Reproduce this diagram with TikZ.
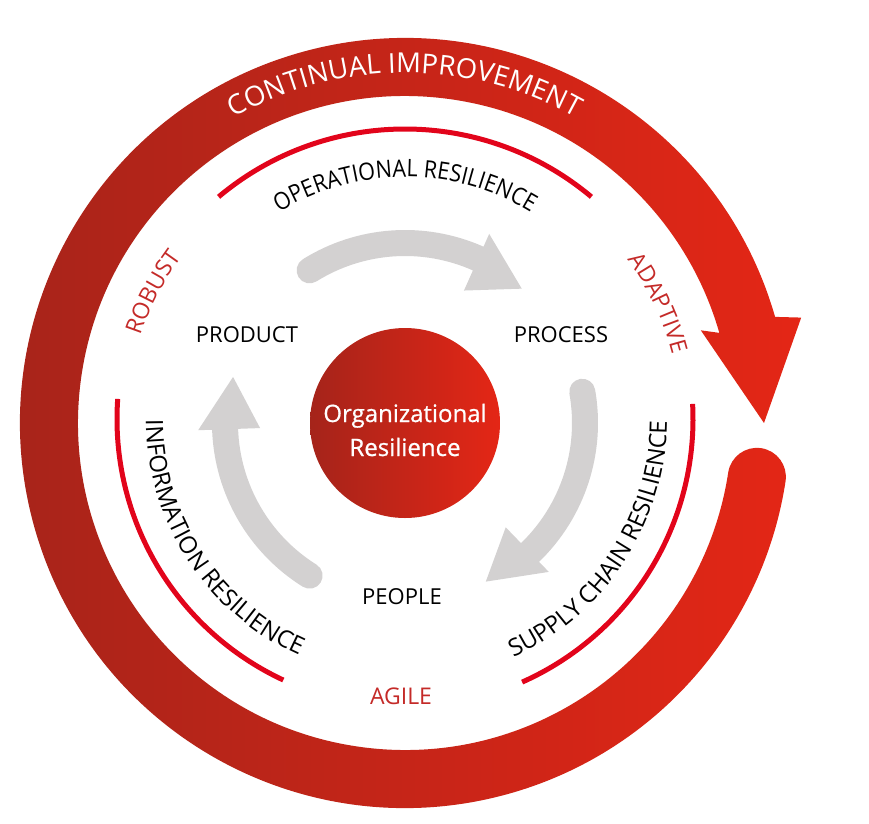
\documentclass[tikz,border=0pt]{standalone}
\usepackage{fontspec}
\setmainfont{Open Sans}
\newfontfamily\narrowfamily[FakeStretch=0.9]{Open Sans}
\newfontfamily\corefamily[FakeBold=0.8]{Open Sans}
\usetikzlibrary{decorations.text}

\definecolor{ringdark}{RGB}{165,36,26}
\definecolor{ringlight}{RGB}{228,38,22}
\definecolor{rimred}{RGB}{226,4,27}
\definecolor{qualred}{RGB}{196,42,40}
\definecolor{flowgray}{RGB}{211,209,209}

\newcommand{\bandfont}{\fontsize{27.5}{30}\selectfont}
\newcommand{\rimfont}{\fontsize{24}{28}\selectfont}
\newcommand{\toprimfont}{\narrowfamily\fontsize{24}{28}\selectfont}
\newcommand{\qualfont}{\fontsize{23}{26}\selectfont}

\begin{document}
\begin{tikzpicture}
[x=1pt,y=1pt,
%
core/.style={shape=circle,minimum size=190pt,inner sep=0pt,left color=ringdark,right color=ringlight},
corelabel/.style={text=white,align=center,font=\corefamily\fontsize{24}{34}\selectfont},
item/.style={anchor=base,font=\fontsize{22}{26}\selectfont},
quality/.style={anchor=base,text=qualred,font=\qualfont},
%
rim/.style={draw=rimred,line width=5pt},
flow/.style={fill=flowgray},
arclabel/.style={decorate,decoration={text along path,text align=center,text={#1}}}]
%
\useasboundingbox (-405,-400) rectangle (464,423);
%
%% continual improvement ring with its head
\shade[left color=ringdark,right color=ringlight]
  (16:385) arc[start angle=16,end angle=351.3,radius=385]
  arc[start angle=-8.7,end angle=171.3,radius=29]
  arc[start angle=351.3,end angle=16,radius=327]
  -- (17.4:310) -- (0:359) -- (14.9:410) -- cycle;
\path[arclabel={|\bandfont|CONTINUAL IMPROVEMENT},decoration={text color=white}]
  (150:350) arc[start angle=150,end angle=30,radius=350];
%
%% qualities
\path[arclabel={|\qualfont|ROBUST},decoration={text color=qualred}]
  (170:278) arc[start angle=170,end angle=135,radius=278];
\path[arclabel={|\qualfont|ADAPTIVE},decoration={text color=qualred}]
  (45:276) arc[start angle=45,end angle=5.6,radius=276];
\node (agile) [quality] at (-4,-281) {AGILE};
%
%% resilience rims and their labels
\begin{scope}[shift={(0,4)}]
\draw[rim] (130:290) arc[start angle=130,end angle=50,radius=290];
\draw[rim] (176:288) arc[start angle=176,end angle=245,radius=288];
\draw[rim] (-66:288) arc[start angle=-66,end angle=3,radius=288];
\path[arclabel={|\toprimfont|OPERATIONAL RESILIENCE}]
  (135:242) arc[start angle=135,end angle=45,radius=242];
\path[arclabel={|\rimfont|INFORMATION RESILIENCE}]
  (168:259) arc[start angle=168,end angle=258,radius=259];
\path[arclabel={|\rimfont|SUPPLY CHAIN RESILIENCE}]
  (-78:262) arc[start angle=-78,end angle=12,radius=262];
\end{scope}
%
%% grey cycle arrows
\foreach \s in {122,10,238}{
  \pgfmathsetmacro\b{\s-56}
  \pgfmathsetmacro\t{\s-73}
  \pgfmathsetmacro\e{\s+180}
  \fill[flow] (\b:193) arc[start angle=\b,end angle=\s,radius=193]
    arc[start angle=\s,end angle=\e,radius=13]
    arc[start angle=\s,end angle=\b,radius=167]
    -- (\b:145) -- (\t:178) -- (\b:207) -- cycle;
}
%
%% the three P's
\node (product) [item] at (-158,81) {PRODUCT};
\node (process) [item] at (156,81) {PROCESS};
\node (people) [item] at (-3,-181) {PEOPLE};
%
%% centre
\node (core) [core] at (0,0) {};
\node (corelabel) [corelabel,yshift=-7pt] at (core) {Organizational\\Resilience};
\end{tikzpicture}
\end{document}
